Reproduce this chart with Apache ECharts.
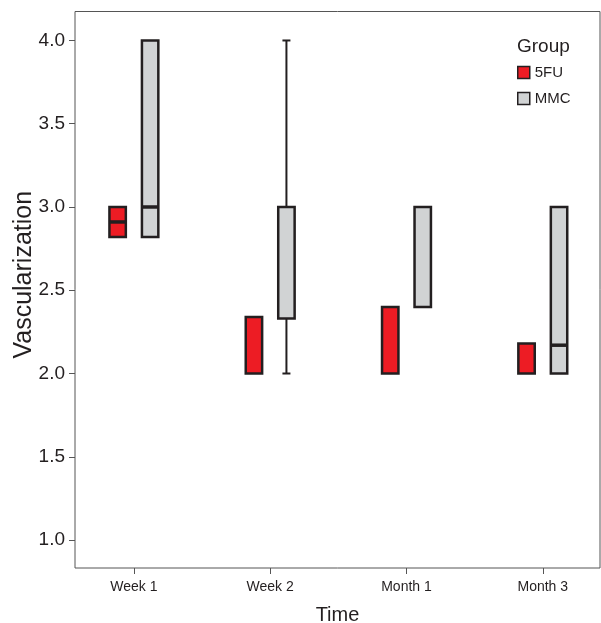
<!DOCTYPE html>
<html>
<head>
<meta charset="utf-8">
<script src="https://cdn.jsdelivr.net/npm/echarts@6/dist/echarts.min.js"></script>
<style>html,body{margin:0;padding:0;background:#fff;}#c{width:601px;height:623px;}</style>
</head>
<body>
<div id="c"></div>
<script>
// Categories and tick labels
const categories = ['Week 1', 'Week 2', 'Month 1', 'Month 3'];
const yTicks = [1.0, 1.5, 2.0, 2.5, 3.0, 3.5, 4.0];
const groups = ['5FU', 'MMC'];
// Box statistics per category: [min, q1, median, q3, max]
const fu5Stats = [
  [2.82, 2.82, 2.91, 3.00, 3.00],
  [2.00, 2.00, 2.00, 2.34, 2.34],
  [2.00, 2.00, 2.00, 2.40, 2.40],
  [2.00, 2.00, 2.00, 2.18, 2.18]
];
const mmcStats = [
  [2.82, 2.82, 3.00, 4.00, 4.00],
  [2.00, 2.33, 3.00, 3.00, 4.00],
  [2.40, 2.40, 3.00, 3.00, 3.00],
  [2.00, 2.00, 2.17, 3.00, 3.00]
];

const INK = '#231f20';
const RED = '#ED1C24';
const GREY = '#D1D3D4';

function toData(stats) {
  return stats.map((s, i) => [i + 1].concat(s));
}

function makeRender(offset) {
  return function (params, api) {
    const x = api.value(0) + offset;
    const vMin = api.value(1), q1 = api.value(2), med = api.value(3), q3 = api.value(4), vMax = api.value(5);
    const c = api.coord([x, q1])[0];
    const y = v => api.coord([x, v])[1];
    const hw = 8.2, cap = 4;
    const style = api.style();
    const kids = [];
    if (vMax > q3) {
      kids.push({ type: 'line', shape: { x1: c, y1: y(q3), x2: c, y2: y(vMax) }, style: { stroke: INK, lineWidth: 2 } });
      kids.push({ type: 'line', shape: { x1: c - cap, y1: y(vMax), x2: c + cap, y2: y(vMax) }, style: { stroke: INK, lineWidth: 2 } });
    }
    if (vMin < q1) {
      kids.push({ type: 'line', shape: { x1: c, y1: y(q1), x2: c, y2: y(vMin) }, style: { stroke: INK, lineWidth: 2 } });
      kids.push({ type: 'line', shape: { x1: c - cap, y1: y(vMin), x2: c + cap, y2: y(vMin) }, style: { stroke: INK, lineWidth: 2 } });
    }
    kids.push({ type: 'rect', shape: { x: c - hw, y: y(q3), width: 2 * hw, height: y(q1) - y(q3) },
      style: { fill: style.fill, stroke: INK, lineWidth: 2.5 } });
    if (med > q1 && med < q3) {
      kids.push({ type: 'line', shape: { x1: c - hw, y1: y(med), x2: c + hw, y2: y(med) }, style: { stroke: INK, lineWidth: 3.5 } });
    }
    return { type: 'group', children: kids };
  };
}

const chart = echarts.init(document.getElementById('c'), null, { renderer: 'canvas' });
const tickPos = categories.map((_, i) => i + 1);
const font = 'Liberation Sans, Arial, sans-serif';

chart.setOption({
  animation: false,
  backgroundColor: '#fff',
  textStyle: { fontFamily: font },
  title: { text: 'Group', left: 517, top: 37, padding: 0,
    textStyle: { fontSize: 19, fontWeight: 'normal', color: INK, fontFamily: font } },
  legend: {
    orient: 'vertical', left: 517, top: 65, padding: 0,
    itemWidth: 12, itemHeight: 12, itemGap: 11,
    textStyle: { fontSize: 15, color: INK, fontFamily: font },
    data: [
      { name: '5FU', icon: 'rect', itemStyle: { color: RED, borderColor: INK, borderWidth: 1.5 } },
      { name: 'MMC', icon: 'rect', itemStyle: { color: GREY, borderColor: INK, borderWidth: 1.5 } }
    ]
  },
  grid: { left: 75, right: 1, top: 11.5, bottom: 55, containLabel: false, outerBoundsMode: 'none',
    show: true, borderColor: '#555', borderWidth: 1, backgroundColor: '#fff' },
  xAxis: {
    type: 'value', min: 0.568, max: 4.4197,
    axisLine: { show: false },
    splitLine: { show: false },
    axisTick: { show: true, customValues: tickPos, length: 6, lineStyle: { color: '#555' } },
    axisLabel: { customValues: tickPos, formatter: v => categories[Math.round(v) - 1] || '',
      fontSize: 14, color: INK, margin: 12, fontFamily: font },
    name: 'Time', nameLocation: 'middle', nameGap: 37,
    nameTextStyle: { fontSize: 20, color: INK, fontFamily: font }
  },
  yAxis: {
    type: 'value', min: 0.832, max: 4.174,
    axisLine: { show: false },
    splitLine: { show: false },
    axisTick: { show: true, customValues: yTicks, length: 6, lineStyle: { color: '#555' } },
    axisLabel: { customValues: yTicks, formatter: v => v.toFixed(1),
      fontSize: 19, color: INK, margin: 10, fontFamily: font },
    name: 'Vascularization', nameLocation: 'middle', nameGap: 38, nameMoveOverlap: false,
    nameTextStyle: { fontSize: 25, color: INK, fontFamily: font, padding: [0, 0, 0, 30] }
  },
  series: [
    { name: groups[0], type: 'custom', renderItem: makeRender(-0.1192), itemStyle: { color: RED },
      encode: { x: 0, y: [1, 2, 3, 4, 5] }, data: toData(fu5Stats) },
    { name: groups[1], type: 'custom', renderItem: makeRender(0.1192), itemStyle: { color: GREY },
      encode: { x: 0, y: [1, 2, 3, 4, 5] }, data: toData(mmcStats) }
  ]
});
</script>
</body>
</html>
